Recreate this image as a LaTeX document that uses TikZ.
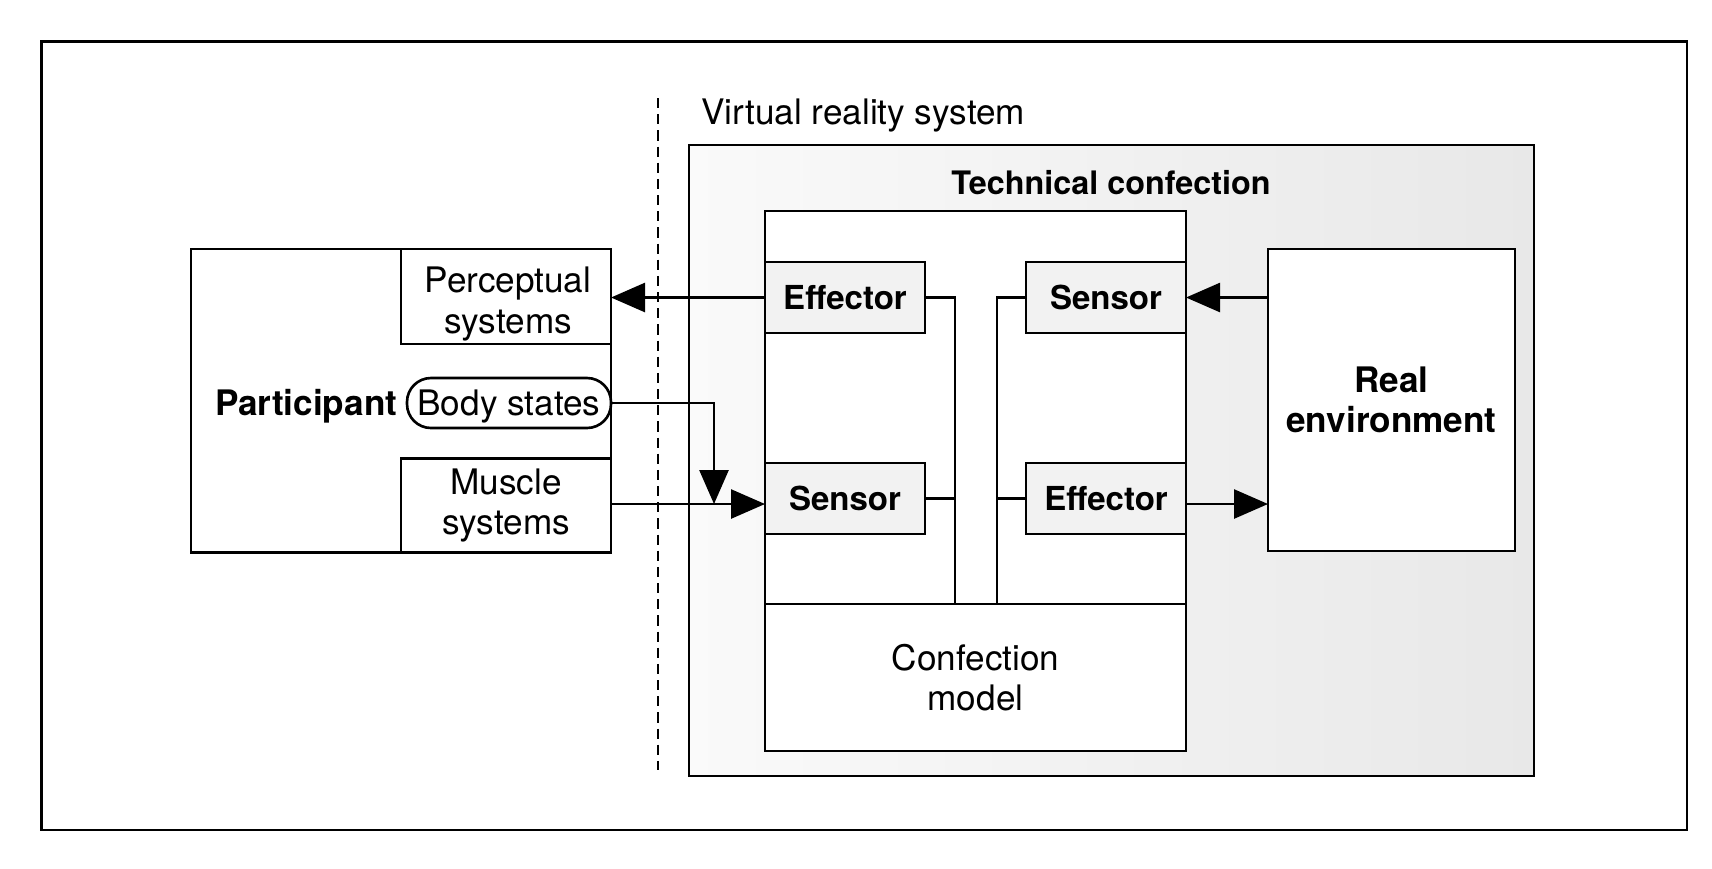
\documentclass[tikz,border=0pt]{standalone}
\usepackage{fontspec}
\setmainfont{TeX Gyre Heros}
\usetikzlibrary{arrows.meta}
\begin{document}
\begin{tikzpicture}[
  line width=0.75pt,
  nf/.style={font=\fontsize{10}{11.5}\selectfont},
  bf/.style={font=\fontsize{10}{11.5}\selectfont\bfseries},
  bfs/.style={font=\fontsize{9.4}{11}\selectfont\bfseries},
  box/.style={draw, inner sep=0pt, outer sep=0pt, align=center},
  stip/.style={fill=gray!10},
  arr/.style={-{Triangle[length=3.4mm,width=2.9mm]}},
  sep/.style={dash pattern=on 2.9pt off 1.7pt, line width=0.6pt}
]
\useasboundingbox (0,0) rectangle (17.12,-8.68);
% outer frame
\node[box, minimum width=16.455cm, minimum height=7.885cm] (frame) at (8.6425,-4.3575) {};
% virtual reality system area
\node[box, left color=gray!4, right color=gray!18, minimum width=8.45cm, minimum height=6.31cm] (vr) at (11.115,-4.605) {};
\coordinate (dtop) at (6.58,-0.98);
\coordinate (dbot) at (6.58,-7.70);
\draw[sep] (dtop) -- (dbot);
\node[nf, anchor=base west, inner sep=0pt] (vrlabel) at (7.00,-1.245) {Virtual reality system};
\node[font=\fontsize{9.2}{11}\selectfont\bfseries, anchor=base, inner sep=0pt] (tclabel) at (11.11,-1.94) {Technical confection};
% technical confection
\node[box, fill=white, minimum width=4.21cm, minimum height=5.40cm] (tech) at (9.755,-4.81) {};
\node[box, nf, fill=white, minimum width=4.21cm, minimum height=1.47cm] (model) at (9.755,-6.775) {Confection\\model};
\node[box, bfs, stip, minimum width=1.60cm, minimum height=0.71cm] (eff1) at (8.45,-2.975) {Effector};
\node[box, bfs, stip, minimum width=1.60cm, minimum height=0.71cm] (sens1) at (11.06,-2.975) {Sensor};
\node[box, bfs, stip, minimum width=1.60cm, minimum height=0.71cm] (sens2) at (8.45,-4.985) {Sensor};
\node[box, bfs, stip, minimum width=1.60cm, minimum height=0.71cm] (eff2) at (11.06,-4.985) {Effector};
\coordinate (jl) at (9.55,-6.04);
\coordinate (jr) at (9.97,-6.04);
\draw (eff1.east) -| (jl);
\draw (sens2.east) -- (sens2.east -| jl);
\draw (sens1.west) -| (jr);
\draw (eff2.west) -- (eff2.west -| jr);
% real environment
\node[box, bf, fill=white, minimum width=2.47cm, minimum height=3.02cm] (realenv) at (13.915,-4.00) {Real\\environment};
% participant
\node[box, minimum width=4.20cm, minimum height=3.035cm] (part) at (4.01,-4.0075) {};
\node[box, minimum width=2.10cm, minimum height=0.95cm] (perc) at (5.06,-2.965) {};
\node[nf, align=center, inner sep=0pt] (perctext) at (5.08,-3.04) {Perceptual\\systems};
\node[box, nf, minimum width=2.10cm, minimum height=0.94cm] (musc) at (5.06,-5.055) {Muscle\\systems};
\node[box, rounded corners=2.4mm, minimum width=2.04cm, minimum height=0.50cm] (body) at (5.09,-4.03) {};
\node[nf, inner sep=0pt, anchor=base] (bodytext) at (5.09,-4.155) {Body states};
\node[bf, anchor=base east, inner sep=0pt] (ptext) at (3.985,-4.155) {Participant};
% connectors
\coordinate (mline) at (0,-5.04);
\coordinate (bt) at (7.14,-5.04);
\draw[arr] (eff1.west) -- (eff1.west -| perc.east);
\draw[arr] (sens1.east -| realenv.west) -- (sens1.east);
\draw[arr] (eff2.east |- mline) -- (realenv.west |- mline);
\draw[arr] (musc.east |- mline) -- (sens2.west |- mline);
\draw[arr] (body.east) -| (bt);
\end{tikzpicture}
\end{document}
